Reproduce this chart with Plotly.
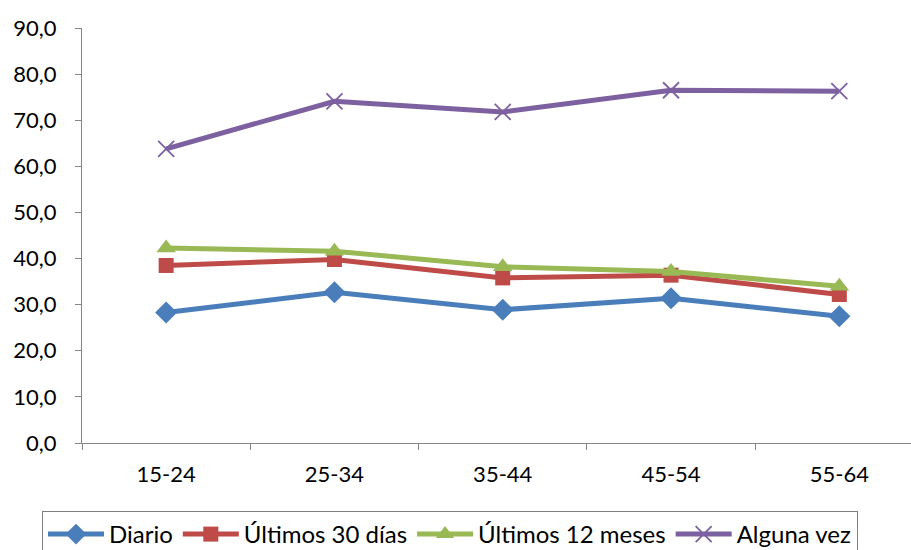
import plotly.graph_objects as go

categories = ["15-24", "25-34", "35-44", "45-54", "55-64"]
diario = [28.3, 32.7, 28.9, 31.4, 27.5]
ultimos_30 = [38.5, 39.8, 35.8, 36.4, 32.2]
ultimos_12 = [42.3, 41.6, 38.2, 37.2, 34.0]
alguna_vez = [63.8, 74.1, 71.8, 76.5, 76.3]

series = [
    ("Diario", diario, "#4A7EBB", "diamond", 17),
    ("Últimos 30 días", ultimos_30, "#BE4B48", "square", 15),
    ("Últimos 12 meses", ultimos_12, "#98B954", "triangle-up", 17),
    ("Alguna vez", alguna_vez, "#7D60A0", "x-thin-open", 16),
]

fig = go.Figure()
for name, vals, col, sym, sz in series:
    marker = dict(symbol=sym, size=sz, color=col)
    if sym == "x-thin-open":
        marker["line"] = dict(color=col, width=1.8)
    fig.add_trace(go.Scatter(
        x=categories, y=vals, name=name, mode="lines+markers",
        line=dict(color=col, width=5), marker=marker,
    ))

font = "Lato"
fig.update_layout(
    width=911, height=550,
    margin=dict(l=82, r=0, t=28, b=107),
    paper_bgcolor="white", plot_bgcolor="white",
    separators=", ",
    font=dict(family=font, size=22, color="black"),
    showlegend=True,
    legend=dict(
        orientation="h", xref="container", yref="container",
        x=42 / 911, xanchor="left",
        y=1 - 511 / 550, yanchor="top",
        bordercolor="#7f7f7f", borderwidth=1,
        font=dict(family=font, size=24, color="black"),
        traceorder="normal", itemwidth=56,
    ),
    xaxis=dict(
        type="category", range=[-0.5, 4.426], automargin=False,
        showgrid=False, showline=True, linecolor="#868686", linewidth=1,
        ticks="outside", tickson="boundaries", ticklen=6, tickcolor="#868686",
        tickfont=dict(family=font, size=22), ticklabelstandoff=12,
    ),
    yaxis=dict(
        range=[0, 90], tickvals=[0, 10, 20, 30, 40, 50, 60, 70, 80, 90],
        tickformat=".1f", automargin=False,
        showgrid=False, showline=True, linecolor="#868686", linewidth=1,
        ticks="outside", ticklen=6, tickcolor="#868686",
        tickfont=dict(family=font, size=22), zeroline=False,
        ticklabelstandoff=14,
    ),
)

fig.write_html("out.html", config={"displayModeBar": False},
               post_script="document.body.style.margin='0';")
